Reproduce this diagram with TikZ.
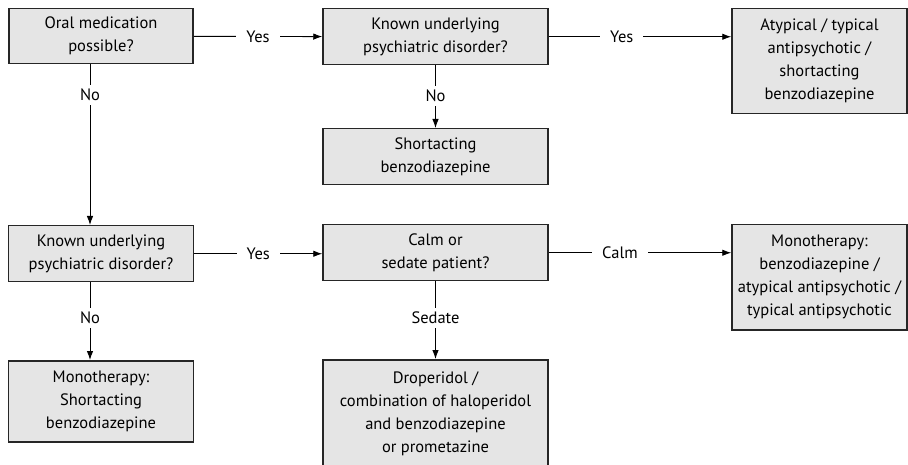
\documentclass[tikz,border=0pt]{standalone}
\usepackage{fontspec}
\setmainfont{PT Sans}
\usetikzlibrary{arrows.meta,positioning}

\begin{document}
\begin{tikzpicture}[x=1pt, y=-1pt,
    main/.style = {draw=black!85, line width=1.5pt, fill=black!10, align=center,
        inner sep=2pt, anchor=north, font=\fontsize{16.5}{23}\selectfont},
    lab/.style = {fill=white, inner xsep=10pt, inner ysep=4pt, font=\fontsize{16.5}{18}\selectfont},
    conn/.style = {line width=0.9pt, -{Latex[length=9pt,width=6.5pt]}}]
            \useasboundingbox (0,0) rectangle (908,465);

            \node[main, minimum width=184pt, minimum height=55pt] (oral) at (101,8) {Oral medication\\possible?};
            \node[main, minimum width=225pt, minimum height=56pt] (known1) at (435.5,8) {Known underlying\\psychiatric disorder?};
            \node[main, minimum width=175pt, minimum height=105pt] (atyp) at (819.5,8) {Atypical / typical\\antipsychotic /\\shortacting\\benzodiazepine};
            \node[main, minimum width=225pt, minimum height=56pt] (short) at (435.5,128) {Shortacting\\benzodiazepine};
            \node[main, minimum width=185pt, minimum height=56pt] (known2) at (101,225) {Known underlying\\psychiatric disorder?};
            \node[main, minimum width=185pt, minimum height=81pt] (mono1) at (101,360) {Monotherapy:\\Shortacting\\benzodiazepine};
            \node[main, minimum width=225pt, minimum height=56pt] (calm) at (435.5,224) {Calm or\\sedate patient?};
            \node[main, minimum width=225pt, minimum height=108pt] (drop) at (435.5,359) {Droperidol /\\combination of haloperidol\\and benzodiazepine\\or prometazine};
            \node[main, minimum width=175pt, minimum height=105pt] (mono2) at (819.5,224) {Monotherapy:\\benzodiazepine /\\atypical antipsychotic /\\typical antipsychotic};

            \path[conn] (oral) edge node[lab] {Yes} (known1);
            \path[conn] (known1.east) edge node[lab, pos=0.4] {Yes} (known1.east -| atyp.west);
            \path[conn] (known1) edge node[lab, pos=0.49] {No} (short);
            \path[conn] ([xshift=-11pt]oral.south) edge node[lab, pos=0.19] {No} ([xshift=-11pt]known2.north);
            \path[conn] (known2.east) edge node[lab] {Yes} (known2.east -| calm.west);
            \path[conn] ([xshift=-11pt]known2.south) edge node[lab, pos=0.46] {No} ([xshift=-11pt]mono1.north);
            \path[conn] (calm.east) edge node[lab, pos=0.39] {Calm} (calm.east -| mono2.west);
            \path[conn] (calm) edge node[lab, pos=0.47] {Sedate} (drop);
        \end{tikzpicture}
\end{document}
